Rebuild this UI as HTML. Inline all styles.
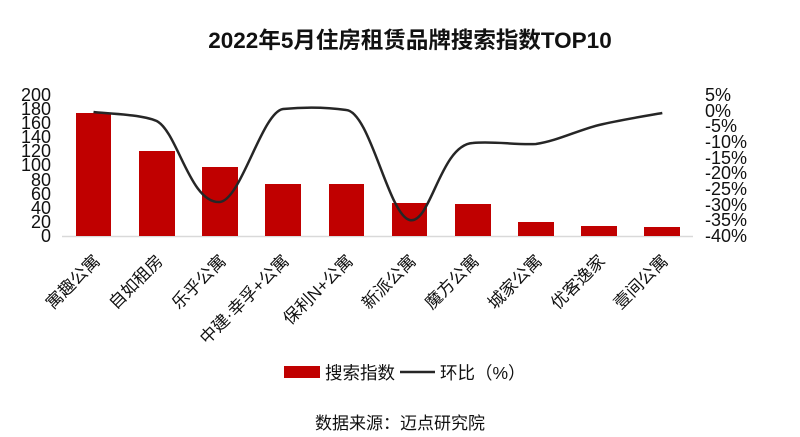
<!DOCTYPE html>
<html><head><meta charset="utf-8"><style>
html,body{margin:0;padding:0;background:#fff;width:800px;height:437px;overflow:hidden}
svg{display:block}
text{font-family:"Liberation Sans","Noto Sans CJK SC",sans-serif;fill:#111}
</style></head><body>
<svg width="800" height="437" viewBox="0 0 800 437" xmlns="http://www.w3.org/2000/svg">
<text x="410" y="48" text-anchor="middle" font-size="22.5" font-weight="bold">2022年5月住房租赁品牌搜索指数TOP10</text>
<g font-size="18" text-anchor="end">
<text x="51" y="101">200</text><text x="51" y="115">180</text><text x="51" y="129">160</text><text x="51" y="143">140</text><text x="51" y="157">120</text><text x="51" y="171">100</text><text x="51" y="186">80</text><text x="51" y="200">60</text><text x="51" y="214">40</text><text x="51" y="228">20</text><text x="51" y="242">0</text>
</g>
<g font-size="18">
<text x="705" y="101">5%</text><text x="705" y="117">0%</text><text x="705" y="132">-5%</text><text x="705" y="148">-10%</text><text x="705" y="164">-15%</text><text x="705" y="179">-20%</text><text x="705" y="195">-25%</text><text x="705" y="211">-30%</text><text x="705" y="226">-35%</text><text x="705" y="242">-40%</text>
</g>
<line x1="62" y1="236.5" x2="693" y2="236.5" stroke="#d9d9d9" stroke-width="1.5"/>
<g fill="#c00000">
<rect x="76" y="113" width="35" height="123"/>
<rect x="139" y="151" width="36" height="85"/>
<rect x="202" y="167" width="36" height="69"/>
<rect x="265" y="184" width="36" height="52"/>
<rect x="329" y="184" width="35" height="52"/>
<rect x="392" y="203" width="35" height="33"/>
<rect x="455" y="204" width="36" height="32"/>
<rect x="518" y="222" width="36" height="14"/>
<rect x="581" y="226" width="36" height="10"/>
<rect x="644" y="227" width="36" height="9"/>
</g>
<path d="M93.5,112 C104,113.5 140,114 156.7,121 C177.8,132 190,204 219.9,202 C241,200 262,112 283.1,109 C304.2,107 325.2,107 346.3,110 C370,112 388.4,214.5 409.5,220 C430.6,225.5 440,145 472.7,143 C493.8,141 514.8,145 535.9,144 C557,141 578,130.2 599.1,125 C620.2,119.8 651.8,115 662.3,113" fill="none" stroke="#262626" stroke-width="2.5"/>
<g font-size="17" text-anchor="end">
<text transform="translate(101,262) rotate(-45)">寓趣公寓</text>
<text transform="translate(164,262) rotate(-45)">自如租房</text>
<text transform="translate(227,262) rotate(-45)">乐乎公寓</text>
<text transform="translate(290,262) rotate(-45)">中建·幸孚+公寓</text>
<text transform="translate(354,262) rotate(-45)">保利N+公寓</text>
<text transform="translate(417,262) rotate(-45)">新派公寓</text>
<text transform="translate(480,262) rotate(-45)">魔方公寓</text>
<text transform="translate(543,262) rotate(-45)">城家公寓</text>
<text transform="translate(606,262) rotate(-45)">优客逸家</text>
<text transform="translate(669,262) rotate(-45)">壹间公寓</text>
</g>
<rect x="284" y="366" width="36" height="12" fill="#c00000"/>
<text x="325" y="379" font-size="17.5">搜索指数</text>
<line x1="400" y1="372" x2="435" y2="372" stroke="#262626" stroke-width="2.5"/>
<text x="440" y="379" font-size="17.5">环比（%）</text>
<text x="400" y="429" font-size="17" text-anchor="middle">数据来源：迈点研究院</text>
</svg>
</body></html>
